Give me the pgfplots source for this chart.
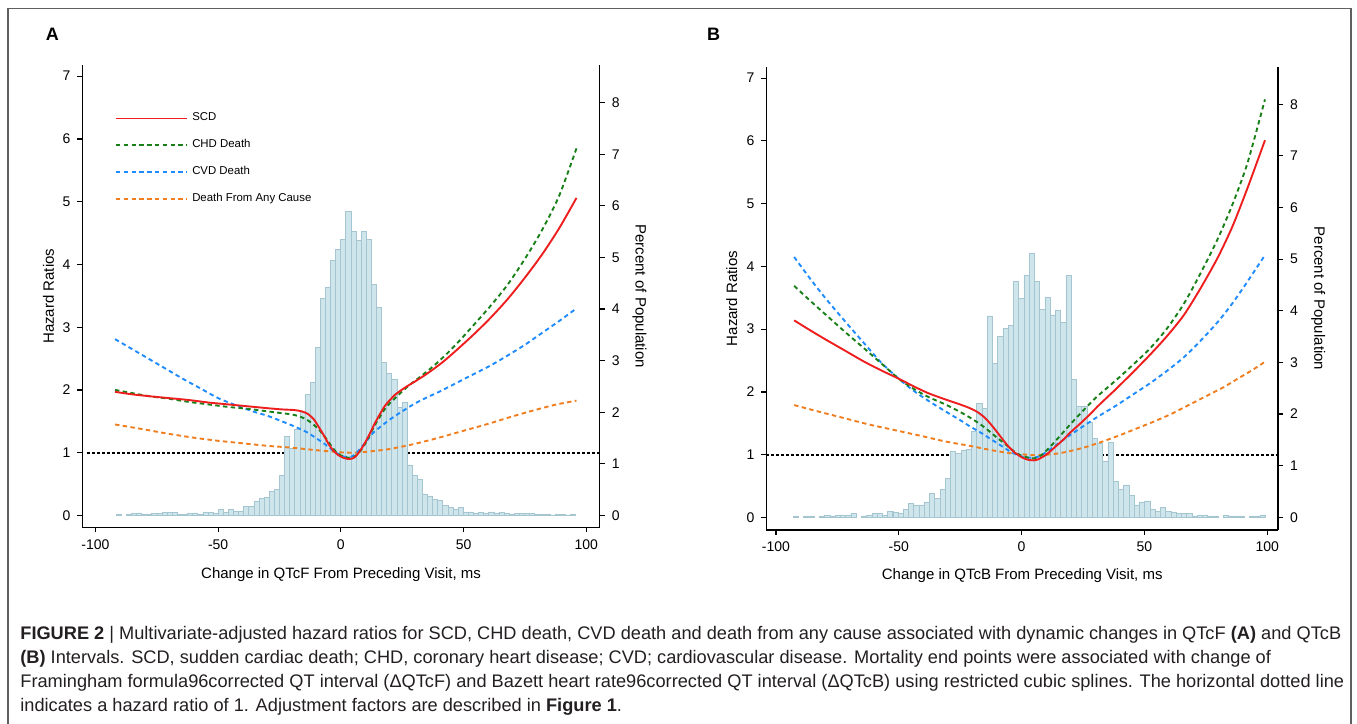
\documentclass[border=0pt]{standalone}
\usepackage{fontspec}
\setmainfont{Liberation Sans}
\usepackage{pgfplots}
\usepackage{pgfplotstable}
\pgfplotsset{compat=1.18}
\definecolor{cred}{RGB}{238,30,30}
\definecolor{cgreen}{RGB}{25,128,25}
\definecolor{cblue}{RGB}{30,140,255}
\definecolor{corange}{RGB}{240,125,30}
\definecolor{hfill}{RGB}{206,229,236}
\definecolor{hedge}{RGB}{165,197,209}
\definecolor{framegray}{RGB}{95,95,95}
\definecolor{captxt}{RGB}{35,31,32}

\pgfplotstableread{
x p
-90.56 0.03
-86.40 0.02
-84.32 0.04
-82.24 0.05
-80.16 0.03
-78.08 0.03
-76.00 0.035
-73.92 0.035
-71.84 0.055
-69.76 0.055
-67.68 0.055
-65.60 0.02
-63.52 0.025
-61.44 0.04
-59.36 0.05
-57.28 0.03
-55.20 0.07
-53.12 0.055
-51.04 0.035
-48.96 0.12
-46.88 0.055
-44.80 0.12
-42.72 0.09
-40.64 0.09
-38.56 0.18
-36.48 0.17
-34.40 0.27
-32.32 0.33
-30.24 0.35
-28.16 0.47
-26.08 0.51
-24.00 0.77
-21.92 1.53
-19.84 1.30
-17.76 1.67
-15.68 1.99
-13.60 2.34
-11.52 2.58
-9.44 3.26
-7.36 4.21
-5.28 4.43
-3.20 4.94
-1.12 5.16
0.96 5.35
3.04 5.89
5.12 5.50
7.20 5.33
9.28 5.51
11.36 5.35
13.44 4.48
15.52 4.03
17.60 2.96
19.68 2.76
21.76 2.64
23.84 2.10
25.92 2.20
28.00 0.98
30.08 0.78
32.16 0.70
34.24 0.42
36.32 0.38
38.40 0.31
40.48 0.29
42.56 0.20
44.64 0.16
46.72 0.12
48.80 0.16
50.88 0.07
52.96 0.07
55.04 0.05
57.12 0.06
59.20 0.05
61.28 0.07
63.36 0.05
65.44 0.06
67.52 0.04
69.60 0.02
71.68 0.04
73.76 0.04
75.84 0.04
77.92 0.04
80.00 0.03
82.08 0.02
84.16 0.02
86.24 0.01
88.32 0.02
90.40 0.02
92.48 0.01
94.56 0.03
}\histA

\pgfplotstableread{
x p
-91.95 0.03
-87.68 0.03
-85.54 0.03
-81.27 0.03
-79.14 0.04
-77.00 0.03
-74.86 0.04
-72.73 0.05
-70.59 0.05
-68.46 0.08
-64.18 0.03
-62.05 0.05
-59.91 0.07
-57.78 0.07
-55.64 0.04
-53.50 0.11
-51.37 0.10
-49.23 0.07
-47.10 0.16
-44.96 0.27
-42.82 0.24
-40.69 0.24
-38.55 0.30
-36.42 0.47
-34.28 0.37
-32.14 0.54
-30.01 0.76
-27.87 1.27
-25.74 1.24
-23.60 1.30
-21.46 1.32
-19.33 1.66
-17.19 2.21
-15.06 2.11
-12.92 3.90
-10.78 2.98
-8.65 3.50
-6.51 3.66
-4.38 3.72
-2.24 4.58
-0.10 4.24
2.03 4.69
4.17 5.12
6.30 4.57
8.44 4.03
10.58 4.27
12.71 3.92
14.85 4.00
16.98 3.78
19.12 4.68
21.26 2.67
23.39 2.16
25.53 2.16
27.66 1.85
29.80 1.53
31.94 1.43
34.07 1.08
36.21 1.45
38.34 0.69
40.48 0.54
42.62 0.63
44.75 0.43
46.89 0.24
49.02 0.30
51.16 0.32
53.30 0.16
55.43 0.11
57.57 0.20
59.70 0.11
61.84 0.09
63.98 0.07
66.11 0.07
68.25 0.08
70.38 0.03
72.52 0.05
74.66 0.05
76.79 0.03
78.93 0.03
83.20 0.04
85.34 0.03
87.47 0.03
89.61 0.03
93.88 0.03
96.02 0.03
98.15 0.05
}\histB

\pgfplotsset{
  myticks/.style={tick align=outside, major tick length=2.5pt,
    tick style={line width=0.6pt,black},
    ticklabel style={font=\fontsize{7}{8}\selectfont},
    axis line style={-,line width=0.6pt,black},
    label style={font=\fontsize{7.5}{9}\selectfont}},
  crv/.style={line width=0.95pt, smooth, tension=0.45},
  dcrv/.style={crv, dash pattern=on 2.2pt off 1.7pt},
  hist/.style={ybar, bar width=2.08, bar shift=0pt, fill=hfill, draw=hedge, line width=0.3pt},
  refl/.style={black, line width=0.9pt, dash pattern=on 1.1pt off 1.4pt},
}

\begin{document}
\begin{tikzpicture}
\useasboundingbox (0,0) rectangle (678.5pt,362pt);
\draw[framegray, line width=0.6pt] (4pt,-5pt) -- (4pt,357.9pt) -- (675.5pt,357.9pt) -- (675.5pt,-5pt);

% ---------------- Panel A ----------------
\begin{axis}[at={(41.2pt,98.3pt)}, anchor=south west, scale only axis,
  width=258.7pt, height=231.2pt,
  xmin=-105.3, xmax=105.5, ymin=-0.19, ymax=7.178,
  axis x line*=bottom, axis y line*=left, myticks,
  xtick={-100,-50,0,50,100}, xticklabels={-100,-50,0,50,100},
  ytick={0,1,2,3,4,5,6,7}, yticklabels={0,1,2,3,4,5,6,7},
  xlabel={Change in QTcF From Preceding Visit, ms}, ylabel={Hazard Ratios},
  xlabel style={at={(axis description cs:0.5,-0.103)}, anchor=center},
  ylabel style={at={(axis description cs:-0.0653,0.5)}, anchor=center}]
\addplot[refl] coordinates {(-103.3,1) (105.5,1)};
\end{axis}
\begin{axis}[at={(41.2pt,98.3pt)}, anchor=south west, scale only axis,
  width=258.7pt, height=231.2pt,
  xmin=-105.3, xmax=105.5, ymin=-0.231, ymax=8.73,
  axis x line=none, axis y line*=right, myticks,
  ytick={0,1,2,3,4,5,6,7,8}, yticklabels={0,1,2,3,4,5,6,7,8},
  ylabel={Percent of Population},
  ylabel style={at={(axis description cs:1.0769,0.5)}, anchor=center, rotate=180}]
\addplot[hist] table[x=x,y=p] {\histA};
\end{axis}
\begin{axis}[at={(41.2pt,98.3pt)}, anchor=south west, scale only axis,
  width=258.7pt, height=231.2pt, hide axis,
  xmin=-105.3, xmax=105.5, ymin=-0.19, ymax=7.178,
  legend cell align=left,
  legend image code/.code={\draw[#1] (0pt,0pt) -- (35.5pt,0pt);},
  legend style={draw=none, fill=none, at={(axis cs:-92.2,6.49)}, anchor=north west,
    font=\fontsize{5.7}{6.5}\selectfont, row sep=3.45pt, inner sep=0pt,
    nodes={inner sep=2.2pt}}]
\addlegendimage{line width=0.95pt, cred}
\addlegendentry{SCD}
\addlegendimage{line width=0.95pt, dash pattern=on 2.2pt off 1.7pt, cgreen}
\addlegendentry{CHD Death}
\addlegendimage{line width=0.95pt, dash pattern=on 2.2pt off 1.7pt, cblue}
\addlegendentry{CVD Death}
\addlegendimage{line width=0.95pt, dash pattern=on 2.2pt off 1.7pt, corange}
\addlegendentry{Death From Any Cause}
\addplot[dcrv, corange, forget plot] coordinates {(-92,1.45) (-80,1.37) (-70,1.30) (-60,1.24) (-50,1.19) (-40,1.15) (-30,1.11) (-20,1.08) (-10,1.04) (-4,1.02) (0,1.005) (4,1.00) (8,1.005) (14,1.03) (20,1.06) (30,1.14) (40,1.24) (50,1.35) (60,1.46) (70,1.58) (80,1.69) (88,1.77) (96,1.83)};
\addplot[dcrv, cblue, forget plot] coordinates {(-92,2.81) (-85,2.65) (-78,2.49) (-71,2.33) (-64,2.17) (-57,2.02) (-50,1.87) (-43,1.76) (-36,1.66) (-30,1.59) (-24,1.50) (-19,1.42) (-14,1.33) (-10,1.23) (-7,1.15) (-4,1.06) (-2,1.00) (0,0.96) (2,0.93) (4,0.93) (6,0.98) (8,1.07) (10,1.16) (13,1.31) (16,1.41) (20,1.53) (25,1.66) (30,1.78) (35,1.88) (40,1.97) (47,2.11) (54,2.25) (61,2.39) (68,2.55) (75,2.72) (82,2.91) (89,3.10) (96,3.30)};
\addplot[dcrv, cgreen, forget plot] coordinates {(-92,2.00) (-85,1.95) (-78,1.90) (-70,1.86) (-62,1.81) (-54,1.77) (-46,1.73) (-38,1.70) (-30,1.66) (-24,1.63) (-20,1.61) (-17,1.58) (-14,1.53) (-11.5,1.46) (-9,1.37) (-7,1.28) (-5,1.17) (-3,1.06) (-1,0.98) (1,0.94) (3,0.92) (4.5,0.92) (6,0.95) (8,1.03) (10,1.15) (12,1.30) (14,1.45) (16,1.58) (18,1.70) (20,1.79) (24,1.94) (28,2.08) (33,2.23) (38,2.39) (43,2.57) (48,2.77) (54,3.03) (61,3.34) (68,3.68) (75,4.09) (82,4.55) (89,5.10) (96,5.85)};
\addplot[crv, cred, forget plot] coordinates {(-92,1.97) (-85,1.93) (-78,1.90) (-70,1.87) (-62,1.84) (-54,1.80) (-46,1.77) (-38,1.74) (-30,1.71) (-24,1.69) (-19,1.68) (-16,1.66) (-13.5,1.62) (-11,1.53) (-9,1.41) (-7,1.28) (-5,1.14) (-3,1.03) (-1,0.96) (1,0.92) (3,0.90) (4.5,0.905) (6,0.94) (8,1.04) (10,1.17) (12,1.32) (14,1.48) (16,1.62) (18,1.75) (20,1.84) (22,1.92) (24,1.98) (27,2.06) (30,2.13) (34,2.23) (38,2.34) (42,2.46) (47,2.63) (54,2.88) (61,3.15) (68,3.45) (75,3.79) (82,4.16) (89,4.58) (96,5.06)};
\end{axis}

% ---------------- Panel B ----------------
\begin{axis}[at={(383.2pt,97pt)}, anchor=south west, scale only axis,
  width=255.8pt, height=231.5pt,
  xmin=-103.9, xmax=104.4, ymin=-0.2, ymax=7.177,
  axis x line*=bottom, axis y line*=left, myticks,
  xtick={-100,-50,0,50,100}, xticklabels={-100,-50,0,50,100},
  ytick={0,1,2,3,4,5,6,7}, yticklabels={0,1,2,3,4,5,6,7},
  xlabel={Change in QTcB From Preceding Visit, ms}, ylabel={Hazard Ratios},
  xlabel style={at={(axis description cs:0.5,-0.0994)}, anchor=center},
  ylabel style={at={(axis description cs:-0.0676,0.5)}, anchor=center}]
\addplot[refl] coordinates {(-103.9,1) (104.4,1)};
\end{axis}
\begin{axis}[at={(383.2pt,97pt)}, anchor=south west, scale only axis,
  width=255.8pt, height=231.5pt,
  xmin=-103.9, xmax=104.4, ymin=-0.244, ymax=8.72,
  axis x line=none, axis y line*=right, myticks,
  ytick={0,1,2,3,4,5,6,7,8}, yticklabels={0,1,2,3,4,5,6,7,8},
  ylabel={Percent of Population},
  ylabel style={at={(axis description cs:1.0786,0.5)}, anchor=center, rotate=180}]
\addplot[hist, bar width=2.136] table[x=x,y=p] {\histB};
\end{axis}
\begin{axis}[at={(383.2pt,97pt)}, anchor=south west, scale only axis,
  width=255.8pt, height=231.5pt, hide axis,
  xmin=-103.9, xmax=104.4, ymin=-0.2, ymax=7.177]
\addplot[dcrv, corange] coordinates {(-92.6,1.79) (-82,1.68) (-72,1.58) (-62,1.48) (-51.5,1.39) (-41,1.30) (-31,1.21) (-21,1.14) (-12,1.07) (-4,1.02) (2,1.0) (6,0.99) (10,1.0) (15,1.02) (20,1.06) (26,1.12) (33,1.21) (40,1.31) (47,1.42) (54,1.53) (61,1.65) (68,1.79) (75,1.93) (82,2.07) (88,2.21) (94,2.35) (99.1,2.48)};
\addplot[dcrv, cblue] coordinates {(-92.6,4.15) (-86,3.80) (-80,3.50) (-72,3.13) (-64,2.77) (-57,2.46) (-50,2.21) (-44,2.02) (-38,1.86) (-31,1.69) (-25,1.55) (-21,1.45) (-17,1.36) (-13,1.26) (-9,1.16) (-5,1.06) (-2,1.00) (1,0.96) (4,0.95) (7,0.97) (10,1.04) (15,1.18) (20,1.32) (25,1.45) (30,1.58) (38,1.77) (45,1.95) (52,2.13) (59,2.33) (66,2.55) (73,2.82) (80,3.12) (86,3.42) (92,3.76) (99.1,4.18)};
\addplot[dcrv, cgreen] coordinates {(-92.6,3.69) (-86,3.45) (-80,3.24) (-72,2.96) (-64,2.69) (-57,2.45) (-50,2.21) (-44,2.05) (-38,1.92) (-31,1.80) (-25,1.68) (-21,1.59) (-17,1.49) (-14,1.40) (-10,1.27) (-7,1.18) (-4,1.08) (-1,1.0) (2,0.96) (5,0.94) (8,0.99) (11,1.10) (15,1.27) (20,1.49) (25,1.70) (30,1.90) (35,2.07) (40,2.24) (45,2.42) (52,2.68) (59,3.00) (66,3.40) (73,3.90) (80,4.45) (86,5.00) (92,5.65) (99.1,6.66)};
\addplot[crv, cred] coordinates {(-92.6,3.14) (-86,2.98) (-80,2.84) (-72,2.66) (-64,2.48) (-57,2.34) (-50,2.21) (-44,2.09) (-38,1.98) (-31,1.88) (-25,1.80) (-21,1.74) (-18,1.68) (-15,1.59) (-12,1.46) (-9,1.31) (-6,1.16) (-3,1.04) (0,0.96) (2.5,0.92) (5,0.91) (7,0.93) (10,1.00) (13,1.10) (17,1.24) (20,1.36) (24,1.50) (28,1.65) (31,1.77) (35,1.92) (38,2.03) (45,2.30) (52,2.58) (59,2.88) (66,3.22) (73,3.66) (80,4.15) (86,4.65) (92,5.25) (99.1,6.01)};
\end{axis}

% panel letters
\node[anchor=base west, inner sep=0pt, font=\fontsize{9}{10}\selectfont\bfseries] at (22.75pt,341.9pt) {A};
\node[anchor=base west, inner sep=0pt, font=\fontsize{9}{10}\selectfont\bfseries] at (353.4pt,341.9pt) {B};

% caption
\begin{scope}[every node/.style={anchor=base west, inner sep=0pt, text=captxt, font=\fontsize{9.1}{10}\selectfont}]
\node at (10pt,42.2pt) {\textbf{FIGURE 2} | Multivariate-adjusted hazard ratios for SCD, CHD death, CVD death and death from any cause associated with dynamic changes in QTcF \textbf{(A)} and QTcB};
\node at (10pt,30.2pt) {\textbf{(B)} Intervals. SCD, sudden cardiac death; CHD, coronary heart disease; CVD; cardiovascular disease. Mortality end points were associated with change of};
\node at (10pt,18.2pt) {Framingham formula96corrected QT interval (ΔQTcF) and Bazett heart rate96corrected QT interval (ΔQTcB) using restricted cubic splines. The horizontal dotted line};
\node at (10pt,6.2pt) {indicates a hazard ratio of 1. Adjustment factors are described in \textbf{Figure 1}.};
\end{scope}
\end{tikzpicture}
\end{document}
